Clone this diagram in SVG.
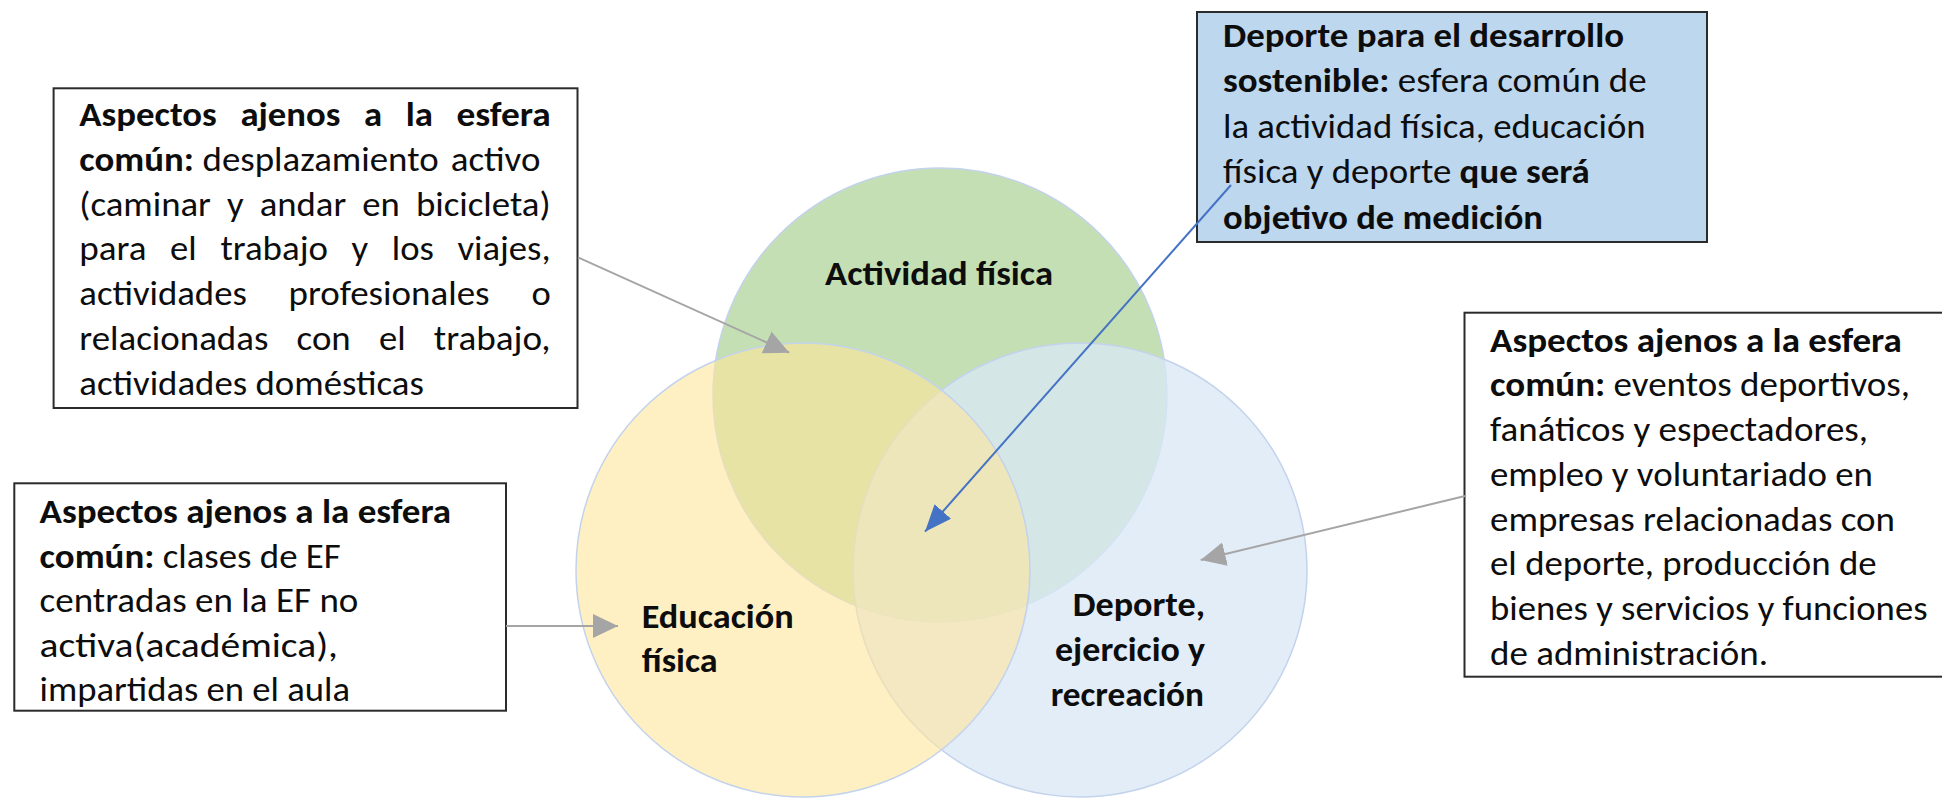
<svg xmlns="http://www.w3.org/2000/svg" width="1942" height="800" viewBox="0 0 1942 800">
<defs>
<style>
text { font-family: Carlito, Lato, "Open Sans", "Liberation Sans", sans-serif; font-size: 34px; fill: #0d0d0d; }
.b { font-weight: bold; }
.box { stroke: #2b2b2b; stroke-width: 2; fill: #ffffff; }
.box-blue { stroke: #2b2b2b; stroke-width: 2; fill: #BDD7EE; }
.gray { stroke: #A5A5A5; stroke-width: 2; fill: none; }
.blue { stroke: #4472C4; stroke-width: 2; fill: none; }
.ring { stroke: #C3D3EC; stroke-width: 1.5; }
</style>
<marker id="ag" markerUnits="userSpaceOnUse" viewBox="0 0 25 24" refX="25" refY="12" markerWidth="25" markerHeight="24" orient="auto"><path d="M0,0 L25,12 L0,24 Z" fill="#A5A5A5"/></marker>
<marker id="ab" markerUnits="userSpaceOnUse" viewBox="0 0 27 22" refX="27" refY="11" markerWidth="27" markerHeight="22" orient="auto"><path d="M0,0 L27,11 L0,22 Z" fill="#4472C4"/></marker>
</defs>
<rect width="1942" height="800" fill="#ffffff"/>

<g id="venn">
<g id="node-actividad">
<circle cx="940" cy="395" r="227" fill="#C5DFB4" class="ring"/>
<text class="b" x="825" y="285" textLength="228" lengthAdjust="spacingAndGlyphs">Actividad física</text>
</g>
<g id="node-deporte">
<circle cx="1080" cy="570" r="227" fill="#D9E8F6" fill-opacity="0.77" class="ring"/>
<text class="b" x="1072.7" y="616" textLength="132.3" lengthAdjust="spacingAndGlyphs">Deporte,</text>
<text class="b" x="1055" y="661" textLength="150" lengthAdjust="spacingAndGlyphs">ejercicio y</text>
<text class="b" x="1050.7" y="706" textLength="153.3" lengthAdjust="spacingAndGlyphs">recreación</text>
</g>
<g id="node-educacion">
<circle cx="803" cy="570" r="227" fill="#FFE699" fill-opacity="0.58" class="ring"/>
<text class="b" x="641.7" y="628.3" textLength="152" lengthAdjust="spacingAndGlyphs">Educación</text>
<text class="b" x="641.7" y="671.7" textLength="76" lengthAdjust="spacingAndGlyphs">física</text>
</g>
</g>

<g id="box-actividad-ajenos">
<rect class="box" x="53.6" y="88.3" width="523.9" height="319.7"/>
<text class="b" y="126"><tspan x="79.3" textLength="137.5" lengthAdjust="spacingAndGlyphs">Aspectos</tspan><tspan x="240.4" textLength="100" lengthAdjust="spacingAndGlyphs">ajenos</tspan><tspan x="364" textLength="18.1" lengthAdjust="spacingAndGlyphs">a</tspan><tspan x="405.7" textLength="27.2" lengthAdjust="spacingAndGlyphs">la</tspan><tspan x="456.4" textLength="94.3" lengthAdjust="spacingAndGlyphs">esfera</tspan></text>
<text y="170.8"><tspan class="b" x="79.3" textLength="114.5" lengthAdjust="spacingAndGlyphs">común:</tspan><tspan x="202.5" textLength="236.1" lengthAdjust="spacingAndGlyphs">desplazamiento</tspan><tspan x="450.7" textLength="89.7" lengthAdjust="spacingAndGlyphs">activo</tspan></text>
<text y="215.6"><tspan x="79.3" textLength="131.6" lengthAdjust="spacingAndGlyphs">(caminar</tspan><tspan x="227" textLength="16.6" lengthAdjust="spacingAndGlyphs">y</tspan><tspan x="259.7" textLength="86.5" lengthAdjust="spacingAndGlyphs">andar</tspan><tspan x="362.3" textLength="37.5" lengthAdjust="spacingAndGlyphs">en</tspan><tspan x="415.9" textLength="134.8" lengthAdjust="spacingAndGlyphs">bicicleta)</tspan></text>
<text y="260.4"><tspan x="79.3" textLength="67.2" lengthAdjust="spacingAndGlyphs">para</tspan><tspan x="170.1" textLength="26.7" lengthAdjust="spacingAndGlyphs">el</tspan><tspan x="220.4" textLength="107.6" lengthAdjust="spacingAndGlyphs">trabajo</tspan><tspan x="351.6" textLength="16.6" lengthAdjust="spacingAndGlyphs">y</tspan><tspan x="391.8" textLength="42.1" lengthAdjust="spacingAndGlyphs">los</tspan><tspan x="457.5" textLength="93.1" lengthAdjust="spacingAndGlyphs">viajes,</tspan></text>
<text y="305.2"><tspan x="79.3" textLength="167.5" lengthAdjust="spacingAndGlyphs">actividades</tspan><tspan x="288.6" textLength="200.9" lengthAdjust="spacingAndGlyphs">profesionales</tspan><tspan x="531.4" textLength="19.3" lengthAdjust="spacingAndGlyphs">o</tspan></text>
<text y="350"><tspan x="79.3" textLength="189.1" lengthAdjust="spacingAndGlyphs">relacionadas</tspan><tspan x="296.6" textLength="54.1" lengthAdjust="spacingAndGlyphs">con</tspan><tspan x="378.9" textLength="26.7" lengthAdjust="spacingAndGlyphs">el</tspan><tspan x="433.8" textLength="116.8" lengthAdjust="spacingAndGlyphs">trabajo,</tspan></text>
<text x="79.3" y="394.8" textLength="344.5" lengthAdjust="spacingAndGlyphs">actividades domésticas</text>
</g>

<g id="box-desarrollo-sostenible">
<rect class="box-blue" x="1197" y="12" width="510" height="230"/>
<text class="b" x="1223" y="46.7" textLength="401" lengthAdjust="spacingAndGlyphs">Deporte para el desarrollo</text>
<text x="1223" y="92.2" textLength="423.6" lengthAdjust="spacingAndGlyphs"><tspan class="b">sostenible:</tspan> esfera común de</text>
<text x="1223" y="137.7" textLength="422.6" lengthAdjust="spacingAndGlyphs">la actividad física, educación</text>
<text x="1223" y="183.2" textLength="366.8" lengthAdjust="spacingAndGlyphs">física y deporte <tspan class="b">que será</tspan></text>
<text class="b" x="1223" y="228.7" textLength="320" lengthAdjust="spacingAndGlyphs">objetivo de medición</text>
</g>

<g id="box-deporte-ajenos">
<rect class="box" x="1464.5" y="312.7" width="500" height="364"/>
<text class="b" x="1490" y="351.7" textLength="411.7" lengthAdjust="spacingAndGlyphs">Aspectos ajenos a la esfera</text>
<text x="1490" y="396.4" textLength="420" lengthAdjust="spacingAndGlyphs"><tspan class="b">común:</tspan> eventos deportivos,</text>
<text x="1490" y="441.1" textLength="378" lengthAdjust="spacingAndGlyphs">fanáticos y espectadores,</text>
<text x="1490" y="485.8" textLength="383" lengthAdjust="spacingAndGlyphs">empleo y voluntariado en</text>
<text x="1490" y="530.5" textLength="405" lengthAdjust="spacingAndGlyphs">empresas relacionadas con</text>
<text x="1490" y="575.2" textLength="386.7" lengthAdjust="spacingAndGlyphs">el deporte, producción de</text>
<text x="1490" y="619.9" textLength="437.5" lengthAdjust="spacingAndGlyphs">bienes y servicios y funciones</text>
<text x="1490" y="664.6" textLength="278" lengthAdjust="spacingAndGlyphs">de administración.</text>
</g>

<g id="box-educacion-ajenos">
<rect class="box" x="14.3" y="483.3" width="491.7" height="227.4"/>
<text class="b" x="39.6" y="523" textLength="411.4" lengthAdjust="spacingAndGlyphs">Aspectos ajenos a la esfera</text>
<text x="39.6" y="567.5" textLength="301.2" lengthAdjust="spacingAndGlyphs"><tspan class="b">común:</tspan> clases de EF</text>
<text x="39.6" y="612" textLength="318.8" lengthAdjust="spacingAndGlyphs">centradas en la EF no</text>
<text x="39.6" y="656.5" textLength="298.4" lengthAdjust="spacingAndGlyphs">activa(académica),</text>
<text x="39.6" y="701" textLength="310.4" lengthAdjust="spacingAndGlyphs">impartidas en el aula</text>
</g>

<g id="connectors">
<line class="gray" x1="578" y1="257.3" x2="789.3" y2="352.7" marker-end="url(#ag)"/>
<line class="gray" x1="506" y1="626" x2="618" y2="626" marker-end="url(#ag)"/>
<line class="gray" x1="1465" y1="496" x2="1200.7" y2="560" marker-end="url(#ag)"/>
<line class="blue" x1="1231" y1="185" x2="925" y2="531.7" marker-end="url(#ab)"/>
</g>
</svg>
